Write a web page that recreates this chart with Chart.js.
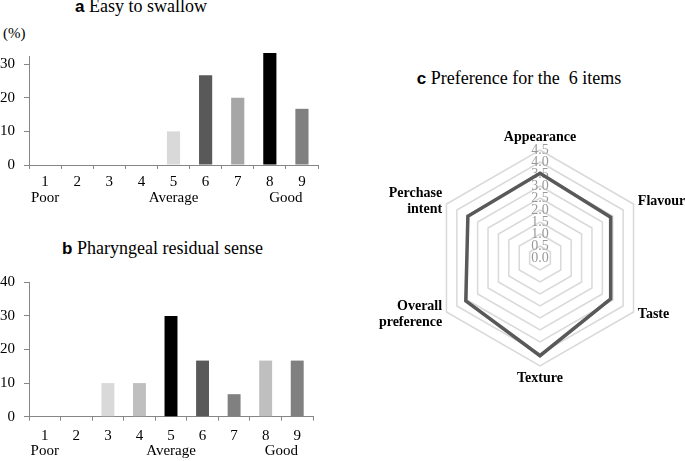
<!DOCTYPE html>
<html>
<head>
<meta charset="utf-8">
<script src="https://cdn.jsdelivr.net/npm/chart.js@4.4.1/dist/chart.umd.min.js"></script>
<style>
  html, body { margin: 0; padding: 0; background: #fff; }
  body { width: 685px; height: 461px; position: relative; overflow: hidden;
         font-family: 'Liberation Serif', 'Times New Roman', serif; color: #000; }
  .box { position: absolute; }
  .title { position: absolute; text-align: center; font-size: 18px; line-height: 20px; white-space: pre; }
  .title b { font-family: 'Liberation Sans', Arial, sans-serif; font-size: 17px; }
  .unit { position: absolute; left: 3px; top: 25px; font-size: 15px; line-height: 17px; }
</style>
</head>
<body>
<div class="title" style="left:0;top:-4px;width:282px"><b>a</b> Easy to swallow</div>
<div class="unit">(%)</div>
<div class="title" style="left:0;top:238px;width:325px"><b>b</b> Pharyngeal residual sense</div>
<div class="title" style="left:369px;top:68px;width:300px"><b>c</b> Preference for the  6 items</div>
<div class="box" style="left:0;top:40px;width:330px;height:175px"><canvas id="chartA"></canvas></div>
<div class="box" style="left:0;top:270px;width:330px;height:191px"><canvas id="chartB"></canvas></div>
<div class="box" style="left:370px;top:110px;width:315px;height:290px"><canvas id="chartC"></canvas></div>
<script>
(function () {
  'use strict';

  // ---- data ----
  var SCORES = ['1', '2', '3', '4', '5', '6', '7', '8', '9'];
  var SCALE_WORDS = ['Poor', 'Average', 'Good'];
  var SCALE_WORD_AT = [0, 4, 7.5];            // category index each word sits under
  var SWALLOW = [0, 0, 0, 0, 10, 26.7, 20, 33.3, 16.7];
  var RESIDUAL = [0, 0, 10, 10, 30, 16.7, 6.7, 16.7, 16.7];
  var ITEMS = ['Appearance', 'Flavour', 'Taste', 'Texture', ['Overall', 'preference'], ['Perchase', 'intent']];
  var PREFERENCE = [3.53, 3.4, 3.4, 4.07, 3.57, 3.47];

  // ---- styles ----
  var AXIS = '#868686', LINE = '#595959', RING = '#d9d9d9', TICK_GRAY = '#9a9a9a';
  var SWALLOW_COLORS = ['#d9d9d9', '#d9d9d9', '#d9d9d9', '#d9d9d9', '#d9d9d9', '#595959', '#a6a6a6', '#000000', '#808080'];
  var RESIDUAL_COLORS = ['#d9d9d9', '#d9d9d9', '#d9d9d9', '#bfbfbf', '#000000', '#595959', '#808080', '#bfbfbf', '#808080'];
  var SERIF = "'Liberation Serif', 'Times New Roman', serif";
  var LH = 1.05;

  Chart.defaults.font.family = SERIF;
  Chart.defaults.color = '#000';

  /* words under the score axis (Poor / Average / Good) */
  var scaleWords = {
    id: 'scaleWords',
    afterDraw: function (chart) {
      var x = chart.scales.x, ctx = chart.ctx;
      var lh = 15 * LH;
      var y = x.top + x.options.grid.tickLength + x.options.ticks.padding + lh * 1.5;
      ctx.save();
      ctx.font = '15px ' + SERIF;
      ctx.fillStyle = '#000';
      ctx.textAlign = 'center';
      ctx.textBaseline = 'middle';
      SCALE_WORDS.forEach(function (w, i) {
        ctx.fillText(w, x.getPixelForValue(SCALE_WORD_AT[i]), y);
      });
      ctx.restore();
    }
  };

  function barChart(id, values, colors, yMax, pad, xHeight, labelPad) {
    return new Chart(document.getElementById(id), {
      type: 'bar',
      data: {
        labels: SCORES,
        datasets: [{
          data: values, backgroundColor: colors, borderWidth: 0,
          categoryPercentage: 1, barPercentage: 0.41, clip: false
        }]
      },
      options: {
        responsive: true, maintainAspectRatio: false, animation: false,
        layout: { padding: pad },
        plugins: { legend: { display: false }, tooltip: { enabled: false } },
        scales: {
          x: {
            grid: { offset: true, drawOnChartArea: false, tickLength: 4, color: AXIS },
            border: { color: AXIS },
            ticks: { font: { size: 15, lineHeight: LH }, padding: labelPad, maxRotation: 0, autoSkip: false },
            afterFit: function (s) { s.height = xHeight; s.paddingLeft = 0; s.paddingRight = 0; }
          },
          y: {
            min: 0, max: yMax, bounds: 'data',
            grid: { drawOnChartArea: false, tickLength: 5, color: AXIS },
            border: { color: AXIS },
            ticks: { stepSize: 10, includeBounds: false, font: { size: 15 }, padding: 9 },
            afterFit: function (s) { s.width = 29; s.paddingTop = 0; s.paddingBottom = 0; }
          }
        }
      },
      plugins: [scaleWords]
    });
  }

  barChart('chartA', SWALLOW, SWALLOW_COLORS, 32.4, { left: 0, right: 12, top: 16, bottom: 0 }, 50, 5);
  barChart('chartB', RESIDUAL, RESIDUAL_COLORS, 40, { left: 0, right: 17, top: 12.3, bottom: 0 }, 44.3, 7);

  /* radar item labels, vertically centred on the side spokes */
  var itemLabels = {
    id: 'itemLabels',
    afterDraw: function (chart) {
      var r = chart.scales.r, ctx = chart.ctx, lh = 15.5;
      ctx.save();
      ctx.font = 'bold 14px ' + SERIF;
      ctx.fillStyle = '#000';
      ctx.textBaseline = 'middle';
      ITEMS.forEach(function (label, i) {
        var lines = [].concat(label);
        var deg = Math.round(r.getIndexAngle(i) * 180 / Math.PI) % 360;
        var p = r.getPointPosition(i, r.drawingArea + 5);
        var y0;
        if (deg === 0) { ctx.textAlign = 'center'; y0 = p.y - lines.length * lh + lh / 2; }
        else if (deg === 180) { ctx.textAlign = 'center'; y0 = p.y + lh / 2; }
        else { ctx.textAlign = deg < 180 ? 'left' : 'right'; y0 = p.y - (lines.length - 1) * lh / 2; }
        lines.forEach(function (t, k) { ctx.fillText(t, p.x, y0 + k * lh); });
      });
      ctx.restore();
    }
  };

  new Chart(document.getElementById('chartC'), {
    type: 'radar',
    data: {
      labels: ITEMS,
      datasets: [{
        data: PREFERENCE, borderColor: LINE, borderWidth: 3.5,
        pointRadius: 0, fill: false, backgroundColor: 'transparent'
      }]
    },
    options: {
      responsive: true, maintainAspectRatio: false, animation: false,
      layout: { padding: { left: 55, right: 30, top: 33, bottom: 27 } },
      plugins: { legend: { display: false }, tooltip: { enabled: false } },
      scales: {
        r: {
          min: -0.0001, max: 4.5,   // just below zero so the "0.0" label is drawn
          angleLines: { display: false },
          grid: { color: RING, lineWidth: 1.5 },
          pointLabels: { display: false },
          ticks: {
            stepSize: 0.5, showLabelBackdrop: false, backdropPadding: 0,
            color: TICK_GRAY, font: { size: 14 },
            callback: function (v) { return Math.abs(v) < 0.01 ? '0.0' : v.toFixed(1); }
          }
        }
      }
    },
    plugins: [itemLabels]
  });
})();
</script>
</body>
</html>
